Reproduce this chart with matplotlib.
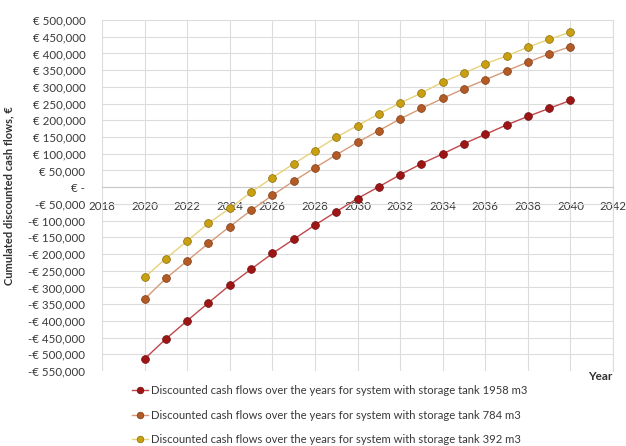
import matplotlib
matplotlib.use("Agg")
import matplotlib.pyplot as plt
from matplotlib.ticker import FuncFormatter, MultipleLocator

plt.rcParams["font.family"] = ["Lato", "DejaVu Sans"]

years = list(range(2020, 2041))

# cumulated discounted cash flows, EUR
cf_1958 = [-514000, -454000, -399500, -346000, -293000, -245500, -198500, -156000,
           -113500, -73500, -34000, 1000, 37000, 70000, 99500, 130000, 158000,
           186000, 211500, 235500, 259500]
cf_784 = [-335000, -273000, -220500, -168000, -118000, -69500, -24500, 18000,
          58000, 96500, 134000, 169000, 204000, 235500, 265500, 294500, 321000,
          348000, 374000, 398500, 420500]
cf_392 = [-270000, -213500, -161000, -108000, -63500, -15000, 28000, 70000,
          109500, 149000, 184000, 219000, 251500, 281500, 314500, 341000, 369000,
          392500, 418500, 442500, 463500]

labels = [
    "Discounted cash flows over the years for system with storage tank 1958 m3",
    "Discounted cash flows over the years for system with storage tank 784 m3",
    "Discounted cash flows over the years for system with storage tank 392 m3",
]
series = [cf_1958, cf_784, cf_392]
line_colors = ["#c0474a", "#d79a78", "#e8d27a"]
marker_colors = ["#9e1515", "#b35a25", "#c9a012"]
edge_colors = ["#6e0c0c", "#7a3a12", "#8a6a08"]


def euro(v, pos):
    if v == 0:
        return "€ -"
    if v < 0:
        return "-€ {:,.0f}".format(-v)
    return "€ {:,.0f}".format(v)


fig = plt.figure(figsize=(6.26, 4.46), dpi=100)
ax = fig.add_axes([102 / 626, 1 - 371 / 446, 511 / 626, 351 / 446])

for vals, lab, lc, mc, ec in zip(series, labels, line_colors, marker_colors, edge_colors):
    ax.plot(years, vals, color=lc, lw=1.0, marker="o", markersize=5.6,
            markerfacecolor=mc, markeredgecolor=ec, markeredgewidth=0.5,
            label=lab, zorder=3)

ax.set_xlim(2018, 2042)
ax.set_ylim(-550000, 500000)
ax.xaxis.set_major_locator(MultipleLocator(2))
ax.yaxis.set_major_locator(MultipleLocator(50000))
ax.yaxis.set_major_formatter(FuncFormatter(euro))

ax.grid(True, color="#dcdcdc", lw=0.8)
ax.set_axisbelow(True)
for side in ["left", "top"]:
    ax.spines[side].set_visible(False)
ax.spines["right"].set_color("#dcdcdc")
ax.spines["bottom"].set_position(("data", 0))
ax.spines["bottom"].set_color("#c8c8c8")
ax.tick_params(axis="both", length=0, labelsize=8.3, colors="#383838")
ax.tick_params(axis="y", pad=12)
ax.tick_params(axis="x", pad=10)

ax.set_ylabel("Cumulated discounted cash flows, €", fontsize=8,
              fontweight="bold", color="#303030", labelpad=10)
fig.text(600 / 626, 1 - 376 / 446, "Year", fontsize=8.5, fontweight="bold",
         color="#303030", ha="center", va="center")

fig.legend(loc="upper left", bbox_to_anchor=(122 / 626, 1 - 375 / 446),
           frameon=False, fontsize=8.1, handlelength=1.4, handletextpad=0.3,
           labelspacing=1.2, markerscale=0.85, labelcolor="#383838")

fig.savefig("out.png", dpi=100)
